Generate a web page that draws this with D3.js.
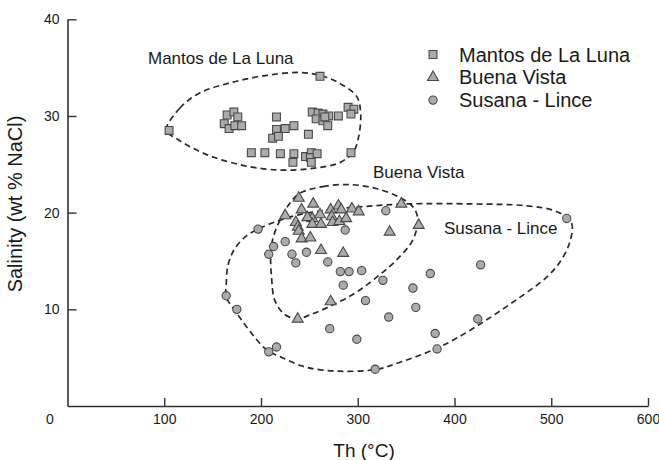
<!DOCTYPE html>
<html>
<head>
<meta charset="utf-8">
<script src="https://cdn.jsdelivr.net/npm/d3@7"></script>
<style>
  html, body { margin: 0; padding: 0; background: #fff; }
  svg { display: block; }
  text { font-family: "Liberation Sans", Arial, Helvetica, sans-serif; fill: #1a1a1a; }
</style>
</head>
<body>
<svg id="chart" width="659" height="460"></svg>
<script>
// ---- Data ----
const mantosTh  = [105,261,165,172,176,162,167,173,180,216,216,225,234,212,218,249,253,259,264,270,280,257,264,269,266,290,296,293,190,204,220,234,233,246,252,251,258,252,293];
const mantosSal = [28.5,34.1,30.1,30.4,29.9,29.2,28.7,29.0,29.0,29.9,28.6,28.7,29.0,27.7,27.9,28.1,30.4,30.3,30.2,30.0,30.0,29.7,29.5,29.0,29.9,30.9,30.7,30.2,26.2,26.2,26.1,26.1,25.2,25.8,26.2,25.7,26.1,25.2,26.2];

const buenaTh  = [239,225,242,254,253,261,248,253,262,272,280,283,273,274,281,288,294,301,236,238,239,242,251,262,285,345,333,363,272,238];
const buenaSal = [21.5,19.7,20.3,20.9,19.4,19.8,19.5,18.8,18.8,20.3,20.7,20.3,19.6,19.0,19.1,19.4,20.4,20.1,19.0,18.5,18.1,17.3,17.4,16.1,15.8,20.9,18.0,18.7,10.8,9.0];

const susanaTh  = [197,225,213,208,232,236,247,269,287,329,282,291,304,285,326,308,357,360,332,271,299,164,175,208,216,318,382,380,424,427,375,516];
const susanaSal = [18.3,17.0,16.5,15.7,15.7,14.8,15.9,14.9,18.2,20.2,13.9,13.9,14.0,12.5,13.0,10.9,12.2,10.2,9.2,8.0,6.9,11.4,10.0,5.6,6.1,3.8,5.9,7.5,9.0,14.6,13.7,19.4];

// Envelope outlines (Th, salinity)
const mantosEnvTh  = [102,116,137,171,206,240,261,281,299,303,301,296,282,255,221,186,152,129,112];
const mantosEnvSal = [28.5,30.8,32.4,33.5,34.2,34.5,34.2,33.4,32.0,30.3,27.9,26.4,25.2,24.6,24.4,24.8,25.7,26.7,27.7];

const buenaEnvTh  = [240,264,292,319,343,357,362,357,340,323,299,271,250,237,223,214,211,210,212,219,230];
const buenaEnvSal = [22.0,22.7,22.9,22.5,21.6,20.6,19.4,17.2,15.1,13.6,11.8,10.3,9.4,9.0,9.6,11.0,13.2,15.4,17.2,19.1,21.0];

const susanaEnvTh  = [164,166,173,185,199,219,240,271,302,351,419,475,506,521,519,509,495,467,433,402,378,343,320,281,247,222,206,188,175,164];
const susanaEnvSal = [12.5,14.6,16.3,17.6,18.4,19.2,19.8,20.3,20.6,20.9,20.9,20.7,20.1,18.9,16.9,14.9,13.3,11.2,8.9,7.0,5.8,4.5,3.8,3.6,4.0,5.0,5.8,7.8,9.6,11.3];

const xTicks = [100,200,300,400,500,600];
const yTicks = [10,20,30,40];
const seriesNames = ["Mantos de La Luna","Buena Vista","Susana - Lince"];

// ---- Drawing ----
const svg = d3.select("#chart");
const x = d3.scaleLinear().domain([0,600]).range([67.5,648]);
const y = d3.scaleLinear().domain([0,40]).range([406,19.3]);

const axisColor = "#333";
const fill = "#ababab", stroke = "#4a4a4a";

// Axes
const gy = svg.append("g").attr("transform", `translate(${x(0)},0)`)
  .call(d3.axisLeft(y).tickValues(yTicks).tickSizeInner(-9).tickSizeOuter(0).tickPadding(8).tickFormat(d3.format("d")));
const gx = svg.append("g").attr("transform", `translate(0,${y(0)})`)
  .call(d3.axisBottom(x).tickValues(xTicks).tickSizeInner(-8).tickSizeOuter(0).tickPadding(8).tickFormat(d3.format("d")));
[gx, gy].forEach(g => {
  g.select(".domain").attr("stroke", axisColor).attr("stroke-width", 1.6);
  g.selectAll(".tick line").attr("stroke", axisColor).attr("stroke-width", 1.4);
  g.selectAll(".tick text").attr("font-size", 14).attr("fill", "#1a1a1a")
    .attr("font-family", '"Liberation Sans", Arial, sans-serif');
});
svg.append("text").attr("x", 50).attr("y", 424).attr("text-anchor", "middle")
  .attr("font-size", 14).text("0");

// Axis titles
svg.append("text").attr("x", 364).attr("y", 457).attr("text-anchor", "middle")
  .attr("font-size", 19).text("Th (°C)");
svg.append("text").attr("transform", "translate(22,204) rotate(-90)").attr("text-anchor", "middle")
  .attr("font-size", 20).text("Salinity (wt % NaCl)");

// Envelopes
const line = d3.line().x(d => x(d[0])).y(d => y(d[1])).curve(d3.curveCatmullRomClosed.alpha(0.5));
[[mantosEnvTh, mantosEnvSal],[buenaEnvTh, buenaEnvSal],[susanaEnvTh, susanaEnvSal]].forEach(([a,b]) => {
  svg.append("path").datum(a.map((v,i) => [v, b[i]]))
    .attr("d", line).attr("fill", "none").attr("stroke", "#2a2a2a")
    .attr("stroke-width", 1.7).attr("stroke-dasharray", "6,4");
});

// Symbols
const sq = d3.symbol().type(d3.symbolSquare).size(62);
const tri = d3.symbol().type(d3.symbolTriangle).size(52);
const cir = d3.symbol().type(d3.symbolCircle).size(54);
const symbols = [sq, tri, cir];

function plot(th, sal, sym) {
  svg.append("g").selectAll("path").data(th.map((v,i) => [v, sal[i]])).join("path")
    .attr("transform", d => `translate(${x(d[0])},${y(d[1])})`)
    .attr("d", sym).attr("fill", fill).attr("stroke", stroke).attr("stroke-width", 1.1);
}
plot(susanaTh, susanaSal, cir);
plot(buenaTh, buenaSal, tri);
plot(mantosTh, mantosSal, sq);

// Region labels
svg.append("text").attr("x", 148).attr("y", 64).attr("font-size", 17).text("Mantos de La Luna");
svg.append("text").attr("x", 373).attr("y", 178).attr("font-size", 17).text("Buena Vista");
svg.append("text").attr("x", 444).attr("y", 234).attr("font-size", 17).text("Susana - Lince");

// Legend
const lg = svg.append("g");
seriesNames.forEach((name, i) => {
  const cy = 54.5 + i * 22.8;
  lg.append("path").attr("transform", `translate(433,${cy})`).attr("d", symbols[i])
    .attr("fill", fill).attr("stroke", stroke).attr("stroke-width", 1.1);
  lg.append("text").attr("x", 459).attr("y", cy + 7).attr("font-size", 20).text(name);
});
</script>
</body>
</html>
